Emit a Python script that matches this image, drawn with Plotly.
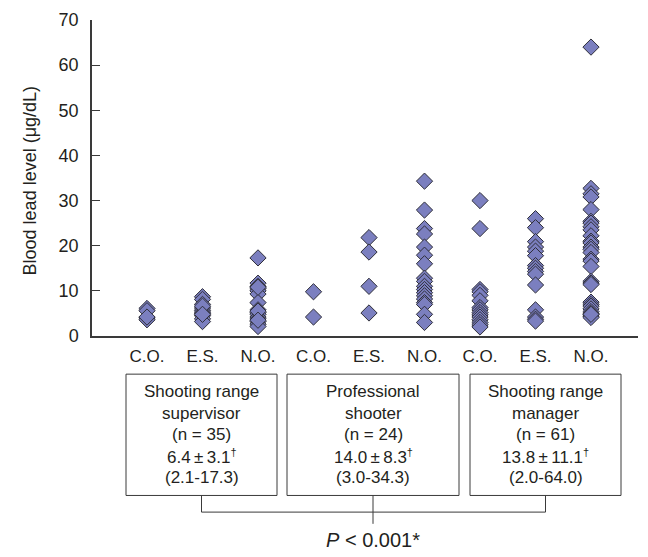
import plotly.graph_objects as go

# ---------------- data ----------------
categories = ["C.O.", "E.S.", "N.O.", "C.O.", "E.S.", "N.O.", "C.O.", "E.S.", "N.O."]

supervisor_co = [6.1, 5.6, 4.0, 3.6, 4.2]
supervisor_es = [8.7, 8.1, 7.0, 6.2, 5.7, 5.3, 5.0, 4.5, 3.8, 3.2, 6.6, 4.8]
supervisor_no = [17.3, 11.7, 11.0, 10.5, 10.0, 9.3, 7.4, 5.8, 5.2, 4.8, 4.2,
                 3.8, 3.2, 2.6, 2.1, 10.8, 5.5, 3.5]

professional_co = [9.8, 4.2]
professional_es = [21.8, 18.6, 11.0, 5.1]
professional_no = [34.3, 27.9, 23.8, 22.6, 19.7, 17.9, 16.0, 12.8, 12.1, 11.0,
                   10.3, 9.6, 8.9, 8.2, 7.4, 7.0, 4.8, 3.0]

manager_co = [30.0, 23.8, 10.3, 9.8, 9.0, 7.8, 6.3, 5.8, 5.2, 4.7, 4.2, 3.6,
              3.0, 2.5, 2.0]
manager_es = [26.0, 24.0, 20.9, 19.7, 18.8, 17.8, 15.6, 15.0, 14.3, 13.7, 11.3,
              5.8, 4.2, 3.7, 3.3]
manager_no = [64.0, 32.7, 31.5, 30.8, 28.0, 25.4, 25.0, 24.2, 23.5, 22.2, 21.0,
              20.6, 19.7, 19.2, 18.5, 17.0, 16.6, 15.4, 12.1, 11.7, 11.4, 7.5,
              7.0, 6.6, 6.0, 5.4, 5.0, 4.7, 4.4, 4.1, 4.8]

columns = [supervisor_co, supervisor_es, supervisor_no,
           professional_co, professional_es, professional_no,
           manager_co, manager_es, manager_no]

y_ticks = [0, 10, 20, 30, 40, 50, 60, 70]

DAG = "<sup><span style='font-size:11px'>†</span></sup>"
group_lines = [
    ["Shooting range", "supervisor", "(n = 35)", "6.4\u2009±\u20093.1" + DAG, "(2.1-17.3)"],
    ["Professional", "shooter", "(n = 24)", "14.0\u2009±\u20098.3" + DAG, "(3.0-34.3)"],
    ["Shooting range", "manager", "(n = 61)", "13.8\u2009±\u200911.1" + DAG, "(2.0-64.0)"],
]
p_text = "<i>P</i> < 0.001*"
y_title = "Blood lead level (μg/dL)"

# ---------------- layout helpers ----------------
FIG_W, FIG_H = 648, 557
L, R, T, B = 92, 10, 13, 221
PW = FIG_W - L - R
PH = FIG_H - T - B
FONT = "Liberation Sans Narrow, Arial Narrow, Liberation Sans, Arial, sans-serif"
TXT = "#231f20"
LINE = "#3a3a3a"


def px(x):
    return (x - L) / PW


def py(y):
    return (FIG_H - B - y) / PH


xs, ys = [], []
for i, col in enumerate(columns):
    xs += [i] * len(col)
    ys += col

fig = go.Figure()
fig.add_trace(go.Scatter(
    x=xs, y=ys, mode="markers",
    marker=dict(symbol="diamond", size=12.5, color="#7b7fbf",
                line=dict(color="#2f2f3a", width=1)),
    hoverinfo="y", showlegend=False,
))

shapes = []
annotations = []

# boxes
boxes = [(126, 277), (287, 459), (470, 621)]
box_top, box_bot = 375, 499
line_ys = [393, 415, 437, 459, 481]
for (x0, x1), lines in zip(boxes, group_lines):
    shapes.append(dict(type="rect", xref="paper", yref="paper",
                       x0=px(x0), x1=px(x1), y0=py(box_bot), y1=py(box_top),
                       line=dict(color=LINE, width=1)))
    cx = (x0 + x1) / 2
    for ly, t in zip(line_ys, lines):
        annotations.append(dict(xref="paper", yref="paper", x=px(cx), y=py(ly),
                                text=t, showarrow=False, xanchor="center",
                                yanchor="middle",
                                font=dict(family=FONT, size=17, color=TXT)))

# bracket
centers = [(b[0] + b[1]) / 2 for b in boxes]
h_y = 516
for c in centers:
    shapes.append(dict(type="line", xref="paper", yref="paper",
                       x0=px(c), x1=px(c), y0=py(box_bot), y1=py(h_y),
                       line=dict(color=LINE, width=1)))
shapes.append(dict(type="line", xref="paper", yref="paper",
                   x0=px(centers[0]), x1=px(centers[2]), y0=py(h_y), y1=py(h_y),
                   line=dict(color=LINE, width=1)))
shapes.append(dict(type="line", xref="paper", yref="paper",
                   x0=px(centers[1]), x1=px(centers[1]), y0=py(h_y), y1=py(528),
                   line=dict(color=LINE, width=1)))
annotations.append(dict(xref="paper", yref="paper", x=px(centers[1]), y=py(545),
                        text=p_text, showarrow=False, xanchor="center",
                        yanchor="middle",
                        font=dict(family=FONT, size=20, color=TXT)))

# y title
annotations.append(dict(xref="paper", yref="paper", x=px(30), y=py(178),
                        text=y_title, textangle=-90, showarrow=False,
                        xanchor="center", yanchor="middle",
                        font=dict(family=FONT, size=18, color=TXT)))

fig.update_layout(
    width=FIG_W, height=FIG_H,
    margin=dict(l=L, r=R, t=T, b=B, pad=0),
    paper_bgcolor="white", plot_bgcolor="white",
    font=dict(family=FONT, size=18, color=TXT),
    shapes=shapes, annotations=annotations,
    xaxis=dict(range=[(L - 147) / 55.5, (FIG_W - R - 147) / 55.5],
               tickvals=list(range(len(categories))), ticktext=categories,
               showgrid=False, zeroline=False, showline=True,
               linecolor=LINE, linewidth=1.5, ticks="",
               tickfont=dict(family=FONT, size=17, color=TXT),
               ticklabelstandoff=4),
    yaxis=dict(range=[0, 70], tickvals=y_ticks, showgrid=False, zeroline=False,
               showline=True, linecolor=LINE, linewidth=1.5,
               ticks="inside", ticklen=8, tickcolor=LINE, tickwidth=1,
               tickfont=dict(family=FONT, size=18, color=TXT),
               ticklabelstandoff=8),
)

fig.write_html("out.html", config={"displayModeBar": False},
               post_script="document.body.style.margin='0';document.body.style.padding='0';")
